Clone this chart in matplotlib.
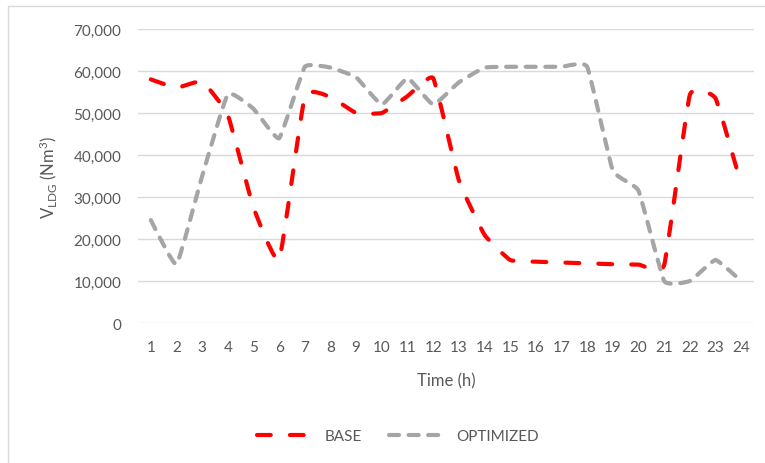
import numpy as np
import matplotlib
matplotlib.use("Agg")
import matplotlib.pyplot as plt
from matplotlib.path import Path
from matplotlib.patches import PathPatch, Rectangle
from matplotlib.lines import Line2D
from matplotlib.ticker import FuncFormatter

plt.rcParams['font.family'] = ['Lato', 'DejaVu Sans']
plt.rcParams['mathtext.fontset'] = 'custom'
plt.rcParams['mathtext.rm'] = 'Lato'
plt.rcParams['mathtext.it'] = 'Lato:italic'

hours = list(range(1, 25))
base = [58000, 56000, 57500, 49500, 27500, 15000, 54000, 53800, 50000, 50000, 54000, 58300,
        34000, 21000, 15000, 14600, 14400, 14200, 14000, 13900, 13800, 54300, 53500, 33000]
optimized = [24500, 14000, 35000, 54500, 51000, 44000, 61000, 60800, 58500, 52000, 58300, 52000,
             57300, 60800, 61000, 61000, 61000, 61000, 36300, 31500, 10000, 10000, 15000, 10000]
y_ticks = [0, 10000, 20000, 30000, 40000, 50000, 60000, 70000]

txt = '#595959'
grid = '#d9d9d9'
red = '#ff0000'
gray = '#a5a5a5'


def smooth_path(xs, ys, k=0.06):
    # cubic bezier through every point, tangent from neighbours (mild "smoothed line")
    pts = np.column_stack([xs, ys]).astype(float)
    verts = [pts[0]]
    codes = [Path.MOVETO]
    n = len(pts)
    for i in range(n - 1):
        p0 = pts[i - 1] if i > 0 else pts[i]
        p1 = pts[i]
        p2 = pts[i + 1]
        p3 = pts[i + 2] if i + 2 < n else pts[i + 1]
        c1 = p1 + (p2 - p0) * k
        c2 = p2 - (p3 - p1) * k
        verts += [c1, c2, p2]
        codes += [Path.CURVE4] * 3
    return Path(verts, codes)


fig = plt.figure(figsize=(7.65, 4.64), dpi=100)
ax = fig.add_axes([138 / 765, 140 / 464, 616 / 765, 294 / 464])

base_style = (0, (3.3, 4.6))
opt_style = (0, (2.4, 2.3))
for vals, col, ls in [(base, red, base_style), (optimized, gray, opt_style)]:
    patch = PathPatch(smooth_path(hours, vals), facecolor='none', edgecolor=col,
                      lw=3, linestyle=ls, capstyle='round', joinstyle='round', zorder=3)
    ax.add_patch(patch)

ax.set_xlim(0.5, 24.5)
ax.set_ylim(0, 70000)
ax.set_xticks(hours)
ax.set_yticks(y_ticks)
ax.yaxis.set_major_formatter(FuncFormatter(lambda v, p: f'{int(v):,}'))
ax.grid(axis='y', color=grid, lw=1)
ax.set_axisbelow(True)
for s in ax.spines.values():
    s.set_visible(False)
ax.tick_params(length=0, labelsize=11, colors=txt)
ax.tick_params(axis='y', pad=12)
ax.tick_params(axis='x', pad=12)

fig.text(446 / 765, 1 - 381 / 464, 'Time (h)', ha='center', va='center', fontsize=12, color=txt)
fig.text(48 / 765, 1 - 177 / 464, r'V$_{\mathrm{LDG}}$ (Nm$^3$)', ha='center', va='center',
         rotation=90, fontsize=12, color=txt)

handles = [Line2D([], [], color=red, lw=3, linestyle=base_style, dash_capstyle='round'),
           Line2D([], [], color=gray, lw=3, linestyle=opt_style, dash_capstyle='round')]
fig.legend(handles, ['BASE', 'OPTIMIZED'], loc='center', bbox_to_anchor=(398 / 765, 1 - 437 / 464),
           ncol=2, frameon=False, fontsize=11, labelcolor=txt, handlelength=3.7,
           handletextpad=0.7, columnspacing=1.8)

# chart-area border
fig.patches.append(Rectangle((8 / 765, -0.2), 2.0, 1.2 - 7 / 464, transform=fig.transFigure,
                             facecolor='none', edgecolor=grid, lw=1))

fig.savefig('out.png', dpi=100)
